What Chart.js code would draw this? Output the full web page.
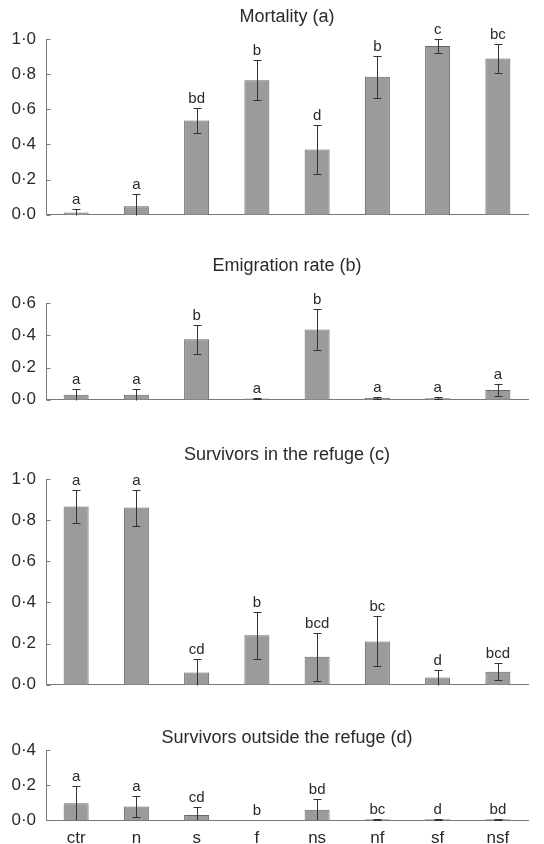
<!DOCTYPE html>
<html>
<head>
<meta charset="utf-8">
<title>Mortality, emigration and survivors</title>
<script src="https://cdn.jsdelivr.net/npm/chart.js@4.4.0/dist/chart.umd.min.js"></script>
<style>
  body { margin: 0; background: #fff; }
  .panel { position: absolute; left: 0; width: 544px; }
</style>
</head>
<body>
<div class="panel" style="top:0px"><canvas id="mortality" width="544" height="235"></canvas></div>
<div class="panel" style="top:235px"><canvas id="emigration" width="544" height="185"></canvas></div>
<div class="panel" style="top:420px"><canvas id="refuge" width="544" height="285"></canvas></div>
<div class="panel" style="top:705px"><canvas id="outside" width="544" height="139"></canvas></div>
<script>
// treatments
const categories = ['ctr', 'n', 's', 'f', 'ns', 'nf', 'sf', 'nsf']

// (a) mortality
const mortality = [0.013, 0.048, 0.537, 0.766, 0.372, 0.785, 0.96, 0.889]
const mortalityErr = [0.02, 0.068, 0.07, 0.115, 0.138, 0.118, 0.042, 0.085]
const mortalityLetters = ['a', 'a', 'bd', 'b', 'd', 'b', 'c', 'bc']

// (b) emigration rate
const emigration = [0.031, 0.031, 0.376, 0.008, 0.436, 0.012, 0.01, 0.06]
const emigrationErr = [0.035, 0.035, 0.09, 0.004, 0.128, 0.006, 0.006, 0.037]
const emigrationLetters = ['a', 'a', 'b', 'a', 'b', 'a', 'a', 'a']

// (c) survivors in the refuge
const refuge = [0.866, 0.861, 0.06, 0.241, 0.136, 0.211, 0.035, 0.064]
const refugeErr = [0.082, 0.087, 0.064, 0.114, 0.118, 0.122, 0.038, 0.041]
const refugeLetters = ['a', 'a', 'cd', 'b', 'bcd', 'bc', 'd', 'bcd']

// (d) survivors outside the refuge
const outside = [0.096, 0.077, 0.029, 0, 0.058, 0.004, 0.004, 0.004]
const outsideErr = [0.099, 0.061, 0.044, 0, 0.062, 0.002, 0.002, 0.002]
const outsideLetters = ['a', 'a', 'cd', 'b', 'bd', 'bc', 'd', 'bd']

const FONT = "'Liberation Sans', Arial, Helvetica, sans-serif"
const TEXT = '#2a2a2a'
const AXIS = '#7a7a7a'

Chart.defaults.font.family = FONT
Chart.defaults.color = TEXT

// error bars + significance letters above each bar
const errorBarPlugin = {
  id: 'errorBars',
  afterDatasetsDraw(chart) {
    const ds = chart.data.datasets[0]
    const meta = chart.getDatasetMeta(0)
    const y = chart.scales.y
    const ctx = chart.ctx
    ctx.save()
    ctx.strokeStyle = '#333'
    ctx.lineWidth = 1
    ctx.fillStyle = TEXT
    ctx.font = '15px ' + FONT
    ctx.textAlign = 'center'
    ctx.textBaseline = 'alphabetic'
    meta.data.forEach((bar, i) => {
      const v = ds.data[i]
      const e = ds.errors[i]
      const x = Math.round(bar.x) + 0.5
      const top = Math.round(y.getPixelForValue(v + e)) + 0.5
      const low = v - e
      const bot = Math.round(y.getPixelForValue(Math.max(0, low))) + 0.5
      if (e > 0) {
        ctx.beginPath()
        ctx.moveTo(x, top)
        ctx.lineTo(x, bot)
        ctx.moveTo(x - 4, top)
        ctx.lineTo(x + 4, top)
        if (low > 0) {
          ctx.moveTo(x - 4, bot)
          ctx.lineTo(x + 4, bot)
        }
        ctx.stroke()
      }
      ctx.fillText(ds.letters[i], bar.x, top - 6)
    })
    ctx.restore()
  }
}

// inward tick marks on the y axis and the panel title
const panelDecor = {
  id: 'panelDecor',
  afterDraw(chart, args, opts) {
    const ctx = chart.ctx
    const y = chart.scales.y
    const left = Math.round(chart.chartArea.left) + 0.5
    ctx.save()
    ctx.strokeStyle = AXIS
    ctx.lineWidth = 1
    ctx.beginPath()
    y.ticks.forEach(t => {
      const py = Math.round(y.getPixelForValue(t.value)) + 0.5
      ctx.moveTo(left, py)
      ctx.lineTo(left + 4, py)
    })
    ctx.stroke()
    ctx.fillStyle = TEXT
    ctx.font = '18px ' + FONT
    ctx.textAlign = 'center'
    ctx.textBaseline = 'middle'
    ctx.fillText(opts.text, (chart.chartArea.left + chart.chartArea.right) / 2, opts.y)
    ctx.restore()
  }
}

function makePanel(id, values, errors, letters, o) {
  new Chart(document.getElementById(id), {
    type: 'bar',
    data: {
      labels: categories,
      datasets: [{
        data: values,
        errors: errors,
        letters: letters,
        backgroundColor: '#9b9b9b',
        borderColor: '#666',
        borderWidth: 1,
        barPercentage: 0.415,
        categoryPercentage: 1
      }]
    },
    options: {
      responsive: false,
      animation: false,
      layout: { padding: { top: o.padTop, right: 16, left: 0, bottom: 0 } },
      plugins: {
        legend: { display: false },
        tooltip: { enabled: false },
        panelDecor: { text: o.title, y: o.titleY }
      },
      scales: {
        x: {
          offset: true,
          grid: { display: false, drawTicks: false },
          border: { display: true, color: AXIS, width: 1 },
          ticks: { display: o.showX, font: { size: 17 }, color: TEXT, padding: 8 },
          afterFit: s => { s.height = o.axisH }
        },
        y: {
          min: 0,
          max: o.max,
          grid: { display: false, drawTicks: false },
          border: { display: true, color: AXIS, width: 1 },
          ticks: {
            stepSize: 0.2,
            font: { size: 17 },
            color: TEXT,
            padding: 10,
            callback: v => v.toFixed(1).replace('.', '\u00b7')
          },
          afterFit: s => { s.width = 46 }
        }
      }
    },
    plugins: [errorBarPlugin, panelDecor]
  })
}

makePanel('mortality', mortality, mortalityErr, mortalityLetters,
  { title: 'Mortality (a)', titleY: 17, padTop: 39, axisH: 15, max: 1.0, showX: false })
makePanel('emigration', emigration, emigrationErr, emigrationLetters,
  { title: 'Emigration rate (b)', titleY: 31, padTop: 68, axisH: 15, max: 0.6, showX: false })
makePanel('refuge', refuge, refugeErr, refugeLetters,
  { title: 'Survivors in the refuge (c)', titleY: 35, padTop: 59, axisH: 16, max: 1.0, showX: false })
makePanel('outside', outside, outsideErr, outsideLetters,
  { title: 'Survivors outside the refuge (d)', titleY: 33, padTop: 45, axisH: 24, max: 0.4, showX: true })
</script>
</body>
</html>
